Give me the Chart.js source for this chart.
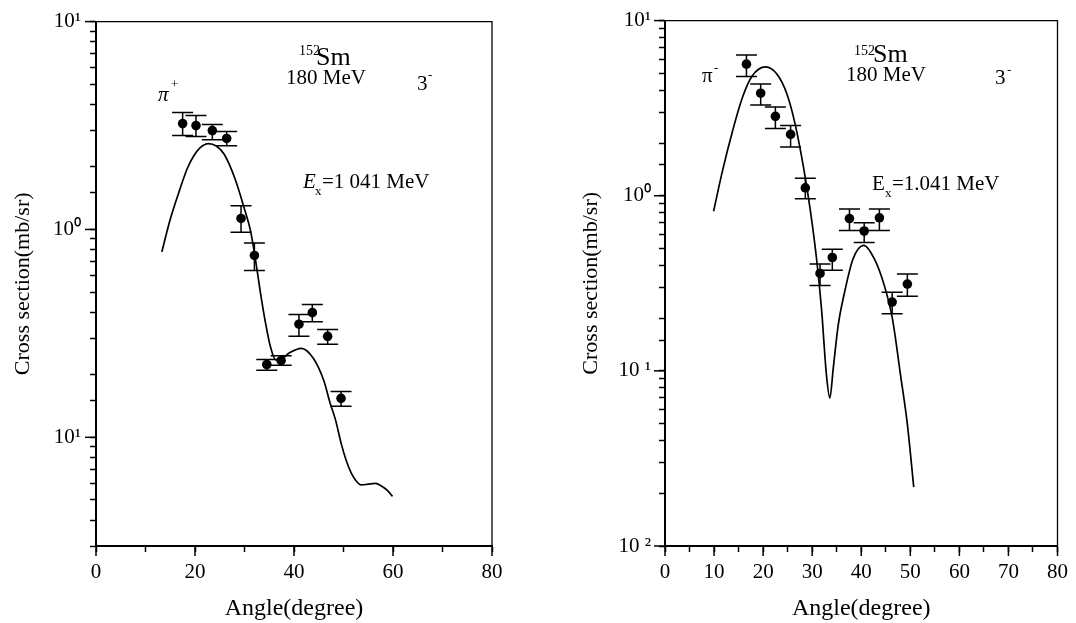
<!DOCTYPE html>
<html>
<head>
<meta charset="utf-8">
<script src="https://cdn.jsdelivr.net/npm/chart.js@4/dist/chart.umd.min.js"></script>
<style>
  html, body { margin: 0; padding: 0; background: #fff; }
  #wrap { position: relative; width: 1076px; height: 623px; background: #fff; overflow: hidden; }
  #c1 { position: absolute; left: 0; top: 0; }
  #c2 { position: absolute; left: 540px; top: 0; }
</style>
</head>
<body>
<div id="wrap">
  <canvas id="c1" width="540" height="623"></canvas>
  <canvas id="c2" width="536" height="623"></canvas>
</div>
<script>
// ---------------- DATA ----------------
// Left panel: pi+ , 152Sm 180 MeV, 3-
const leftAngles   = [17.5, 20.2, 23.5, 26.4, 29.3, 32.0, 34.5, 37.4, 41.0, 43.7, 46.8, 49.5];
const leftValues   = [3.23, 3.16, 2.99, 2.74, 1.13, 0.75, 0.224, 0.234, 0.35, 0.398, 0.306, 0.154];
const leftErrLow   = [2.83, 2.80, 2.70, 2.53, 0.97, 0.635, 0.21, 0.222, 0.306, 0.36, 0.28, 0.141];
const leftErrHigh  = [3.65, 3.53, 3.20, 2.96, 1.30, 0.86, 0.237, 0.247, 0.39, 0.435, 0.33, 0.166];
const leftCurveAngles = [13.3, 15.0, 16.9, 18.5, 19.7, 21.0, 22.7, 24.3, 25.9, 28.1, 30.1, 31.2, 32.2, 33.2, 34.2, 35.2, 36.3, 37.5, 39.1, 41.5, 43.9, 46.0, 47.3, 48.4, 49.5, 50.5, 51.6, 52.6, 53.6, 55.0, 56.4, 57.8, 58.8, 59.9];
const leftCurveValues = [0.78, 1.12, 1.55, 1.98, 2.25, 2.47, 2.59, 2.52, 2.30, 1.75, 1.23, 0.99, 0.72, 0.50, 0.36, 0.275, 0.236, 0.238, 0.255, 0.268, 0.24, 0.188, 0.146, 0.121, 0.094, 0.078, 0.067, 0.0615, 0.059, 0.0595, 0.060, 0.058, 0.0557, 0.052];

// Right panel: pi- , 152Sm 180 MeV, 3-
const rightAngles  = [16.6, 19.5, 22.5, 25.6, 28.6, 31.6, 34.1, 37.6, 40.6, 43.7, 46.3, 49.4];
const rightValues  = [5.64, 3.85, 2.84, 2.24, 1.11, 0.36, 0.444, 0.741, 0.629, 0.748, 0.247, 0.313];
const rightErrLow  = [4.80, 3.30, 2.42, 1.90, 0.96, 0.307, 0.376, 0.634, 0.54, 0.634, 0.212, 0.267];
const rightErrHigh = [6.36, 4.34, 3.21, 2.52, 1.26, 0.407, 0.495, 0.841, 0.701, 0.841, 0.281, 0.357];
const rightCurveAngles = [9.9, 11.75, 13.8, 15.8, 17.8, 20.5, 22.8, 24.85, 26.5, 28.2, 29.6, 30.9, 31.9, 32.9, 33.6, 34.3, 35.3, 36.6, 38.3, 40.5, 42.7, 44.7, 46.35, 48.0, 49.4, 50.7];
const rightCurveValues = [0.816, 1.40, 2.36, 3.65, 4.84, 5.44, 4.95, 3.81, 2.58, 1.47, 0.833, 0.434, 0.226, 0.095, 0.070, 0.104, 0.182, 0.281, 0.434, 0.521, 0.434, 0.307, 0.199, 0.095, 0.0495, 0.0217];

// Axis tick labels
const leftXLabelValues  = [0, 20, 40, 60, 80];
const rightXLabelValues = [0, 10, 20, 30, 40, 50, 60, 70, 80];
const leftYTickValues   = [10, 1, 0.1];
const leftYTickLabels   = ['10\u00B9', '10\u2070', '10\u00B9'];
const rightYTickValues  = [10, 1, 0.1, 0.01];
const rightYTickLabels  = ['10\u00B9', '10\u2070', '10 \u00B9', '10 \u00B2'];

const xTitle = 'Angle(degree)';
const yTitle = 'Cross section(mb/sr)';
const FONT = '"Liberation Serif", "Times New Roman", serif';

// ---------------- PLUGINS ----------------
const errorBarPlugin = {
  id: 'errorBars',
  afterDatasetsDraw(chart, args, opts) {
    const ctx = chart.ctx;
    const xs = chart.scales.x, ys = chart.scales.y;
    const cap = opts.cap || 10;
    chart.data.datasets.forEach((ds) => {
      if (!ds.errLow) return;
      ctx.save();
      ctx.strokeStyle = '#000';
      ctx.lineWidth = 1.5;
      ds.data.forEach((p, i) => {
        const x = xs.getPixelForValue(p.x);
        const yl = ys.getPixelForValue(ds.errLow[i]);
        const yh = ys.getPixelForValue(ds.errHigh[i]);
        ctx.beginPath();
        ctx.moveTo(x, yl); ctx.lineTo(x, yh);
        ctx.moveTo(x - cap, yl); ctx.lineTo(x + cap, yl);
        ctx.moveTo(x - cap, yh); ctx.lineTo(x + cap, yh);
        ctx.stroke();
      });
      ctx.restore();
    });
  }
};

const framePlugin = {
  id: 'frame',
  afterDraw(chart) {
    const ctx = chart.ctx, a = chart.chartArea;
    ctx.save();
    ctx.strokeStyle = '#000';
    ctx.lineWidth = 1.3;
    ctx.beginPath();
    ctx.moveTo(a.left, a.top); ctx.lineTo(a.right, a.top); ctx.lineTo(a.right, a.bottom);
    ctx.stroke();
    // longer major ticks
    ctx.lineWidth = 1.5;
    const xs = chart.scales.x, ys = chart.scales.y;
    xs.ticks.forEach((t) => {
      if (t.label === '' || t.label == null) return;
      const px = xs.getPixelForValue(t.value);
      ctx.beginPath(); ctx.moveTo(px, a.bottom); ctx.lineTo(px, a.bottom + 10); ctx.stroke();
    });
    ys.ticks.forEach((t) => {
      if (t.label === '' || t.label == null) return;
      const py = ys.getPixelForValue(t.value);
      ctx.beginPath(); ctx.moveTo(a.left, py); ctx.lineTo(a.left - 11, py); ctx.stroke();
    });
    ctx.restore();
  }
};

const annotPlugin = {
  id: 'annots',
  afterDraw(chart, args, opts) {
    const ctx = chart.ctx;
    ctx.save();
    ctx.fillStyle = '#000';
    ctx.textBaseline = 'alphabetic';
    ctx.textAlign = 'left';
    (opts.items || []).forEach((it) => {
      ctx.font = (it.italic ? 'italic ' : '') + it.size + 'px ' + FONT;
      ctx.fillText(it.text, it.x, it.y);
    });
    ctx.restore();
  }
};

function isDecade(v) {
  const l = Math.log10(v);
  return Math.abs(l - Math.round(l)) < 1e-6;
}

function makeChart(id, cfg) {
  const xLabelSet = cfg.xLabels;
  return new Chart(document.getElementById(id), {
    type: 'scatter',
    data: {
      datasets: [
        {
          type: 'line',
          data: cfg.curveX.map((x, i) => ({ x, y: cfg.curveY[i] })),
          borderColor: '#000',
          borderWidth: 1.7,
          pointRadius: 0,
          fill: false,
          cubicInterpolationMode: 'monotone',
        },
        {
          type: 'scatter',
          data: cfg.px.map((x, i) => ({ x, y: cfg.py[i] })),
          errLow: cfg.lo,
          errHigh: cfg.hi,
          pointRadius: 4.8,
          pointBackgroundColor: '#000',
          pointBorderColor: '#000',
          pointBorderWidth: 0,
        }
      ]
    },
    options: {
      responsive: false,
      animation: false,
      devicePixelRatio: 1,
      layout: { padding: cfg.padding },
      plugins: {
        legend: { display: false },
        tooltip: { enabled: false },
        errorBars: { cap: 10.5 },
        annots: { items: cfg.annots },
      },
      scales: {
        x: {
          type: 'linear',
          min: 0, max: 80,
          afterFit: (s) => { s.height = cfg.xHeight; },
          border: { display: true, color: '#000', width: 2 },
          grid: { display: true, drawOnChartArea: false, drawTicks: true, tickLength: 6, tickColor: '#000', tickWidth: 1.5 },
          ticks: {
            stepSize: cfg.xStep,
            autoSkip: false,
            maxRotation: 0,
            padding: 8,
            color: '#000',
            font: { family: FONT, size: 21 },
            callback: (v) => xLabelSet.includes(v) ? String(v) : '',
          },
          title: { display: true, text: xTitle, color: '#000', font: { family: FONT, size: 24 }, padding: { top: 0, bottom: 0 } },
        },
        y: {
          type: 'logarithmic',
          min: cfg.yMin, max: 10,
          afterFit: (s) => { s.width = cfg.yWidth; },
          border: { display: true, color: '#000', width: 2 },
          grid: { display: true, drawOnChartArea: false, drawTicks: true, tickLength: 6, tickColor: '#000', tickWidth: 1.5 },
          ticks: {
            autoSkip: false,
            padding: cfg.yPad,
            color: '#000',
            font: { family: FONT, size: 21 },
            callback: (v) => {
              if (!isDecade(v)) return '';
              const idx = cfg.yTickValues.findIndex((t) => Math.abs(Math.log10(t) - Math.log10(v)) < 1e-6);
              return idx >= 0 ? cfg.yTickLabels[idx] : '';
            },
          },
          title: { display: true, text: yTitle, color: '#000', font: { family: FONT, size: 22 }, padding: { top: 10, bottom: 0 } },
        }
      }
    },
    plugins: [errorBarPlugin, framePlugin, annotPlugin]
  });
}

makeChart('c1', {
  curveX: leftCurveAngles, curveY: leftCurveValues,
  px: leftAngles, py: leftValues, lo: leftErrLow, hi: leftErrHigh,
  xLabels: leftXLabelValues, xStep: 10,
  yMin: 0.03, yTickValues: leftYTickValues, yTickLabels: leftYTickLabels,
  padding: { left: 0, right: 48, top: 16, bottom: 0 },
  yWidth: 96, xHeight: 77, yPad: 9,
  annots: [
    { text: '152', x: 299, y: 55, size: 14 },
    { text: 'Sm', x: 316, y: 65, size: 26 },
    { text: '180 MeV', x: 286, y: 84, size: 21 },
    { text: '3', x: 417, y: 90, size: 21 },
    { text: '-', x: 428, y: 79, size: 13 },
    { text: '\u03C0', x: 158, y: 101, size: 21, italic: true },
    { text: '+', x: 171, y: 88, size: 13 },
    { text: 'E', x: 303, y: 188, size: 21, italic: true },
    { text: 'x', x: 315, y: 195, size: 13 },
    { text: '=1 041 MeV', x: 322, y: 188, size: 21 },
  ],
});

makeChart('c2', {
  curveX: rightCurveAngles, curveY: rightCurveValues,
  px: rightAngles, py: rightValues, lo: rightErrLow, hi: rightErrHigh,
  xLabels: rightXLabelValues, xStep: 5,
  yMin: 0.01, yTickValues: rightYTickValues, yTickLabels: rightYTickLabels,
  padding: { left: 28, right: 14, top: 16, bottom: 0 },
  yWidth: 97, xHeight: 77, yPad: 8,
  annots: [
    { text: '152', x: 314, y: 55, size: 14 },
    { text: 'Sm', x: 333, y: 62, size: 26 },
    { text: '180 MeV', x: 306, y: 81, size: 21 },
    { text: '3', x: 455, y: 84, size: 21 },
    { text: '-', x: 467, y: 74, size: 13 },
    { text: '\u03C0', x: 162, y: 82, size: 21 },
    { text: '-', x: 174, y: 72, size: 13 },
    { text: 'E', x: 332, y: 190, size: 21 },
    { text: 'x', x: 345, y: 197, size: 13 },
    { text: '=1.041 MeV', x: 352, y: 190, size: 21 },
  ],
});
</script>
</body>
</html>
